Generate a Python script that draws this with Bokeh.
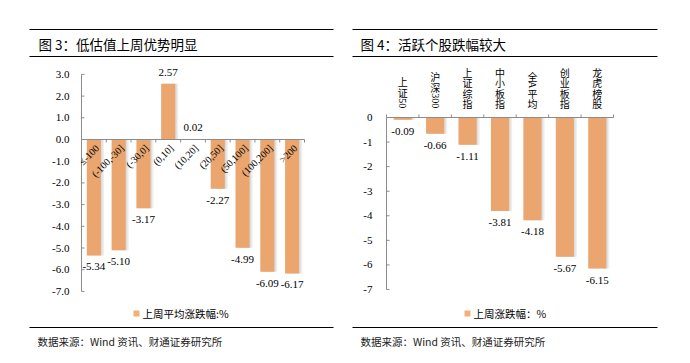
import math
from bokeh.plotting import figure
from bokeh.models import ColumnDataSource, Range1d
from bokeh.layouts import row
from bokeh.embed import file_html
from bokeh.resources import INLINE
from bokeh.core.properties import value

# ---------------- data ----------------
left_title = "图 3：低估值上周优势明显"
left_cats = ["≤-100", "(-100,-30]", "(-30,0]", "(0,10]", "(10,20]",
             "(20,50]", "(50,100]", "(100,200]", ">200"]
left_vals = [-5.34, -5.10, -3.17, 2.57, 0.02, -2.27, -4.99, -6.09, -6.17]
left_ticks = [3, 2, 1, 0, -1, -2, -3, -4, -5, -6, -7]
left_tick_labels = ["3.0", "2.0", "1.0", "0.0", "-1.0", "-2.0", "-3.0", "-4.0", "-5.0", "-6.0", "-7.0"]
left_legend = "上周平均涨跌幅:%"

right_title = "图 4：活跃个股跌幅较大"
right_cats = ["上证50", "沪深300", "上证综指", "中小板指", "全A平均", "创业板指", "龙虎榜股"]
right_vals = [-0.09, -0.66, -1.11, -3.81, -4.18, -5.67, -6.15]
right_ticks = [0, -1, -2, -3, -4, -5, -6, -7]
right_tick_labels = ["0", "-1", "-2", "-3", "-4", "-5", "-6", "-7"]
right_legend = "上周涨跌幅：%"

source_text = "数据来源：Wind 资讯、财通证券研究所"

# ---------------- style ----------------
BAR = "#EAA66E"
LEG = "#F2AF78"
AXIS = "#8C8C8C"
SERIF = "Liberation Serif"
CJK = "Noto Sans CJK SC"


def split_parts(label):
    parts, buf = [], ""
    for ch in label:
        if ord(ch) < 128:
            buf += ch
        else:
            if buf:
                parts.append((buf, True))
                buf = ""
            parts.append((ch, False))
    if buf:
        parts.append((buf, True))
    return parts


def make_chart(cats, vals, ticks, tick_labels, title, legend_text, lay):
    n = len(cats)
    W, H = lay["W"], lay["H"]
    ax, aw = lay["axis_x"], lay["axis_w"]      # pixel position/width of category axis
    zero, ppu = lay["zero"], lay["ppu"]        # pixel of value 0, pixels per unit
    cw = aw / n

    def X(px):
        return (px - ax) / cw

    def Y(py):
        return (zero - py) / ppu

    p = figure(width=W, height=H, x_range=Range1d(X(0), X(W)), y_range=Range1d(Y(H), Y(0)),
               min_border=0, output_backend="svg", toolbar_location=None, tools="",
               x_axis_type=None, y_axis_type=None)
    p.title.visible = False
    p.outline_line_color = None
    p.xgrid.visible = False
    p.ygrid.visible = False
    p.background_fill_color = "white"
    p.border_fill_color = "white"

    centers = [i + 0.5 for i in range(n)]
    bw = lay["bar_w"]
    sh1 = [c + 1.5 / cw for c in centers]
    sh2 = [c + 3.0 / cw for c in centers]
    p.vbar(x=sh2, top=vals, bottom=0, width=bw, fill_color="#BDBDBD", fill_alpha=0.25, line_color=None)
    p.vbar(x=sh1, top=vals, bottom=0, width=bw, fill_color="#BDBDBD", fill_alpha=0.35, line_color=None)
    p.vbar(x=centers, top=vals, bottom=0, width=bw, fill_color=BAR, line_color=None)

    # ---- value axis (drawn from the tick list) ----
    tl = 3.0
    p.segment(x0=[0], y0=[min(ticks)], x1=[0], y1=[max(ticks)], line_color=AXIS, line_width=1)
    p.segment(x0=[0] * len(ticks), y0=ticks, x1=[tl / cw] * len(ticks), y1=ticks,
              line_color=AXIS, line_width=1)
    p.text(x=[0] * len(ticks), y=ticks, text=tick_labels, x_offset=-lay["ystandoff"],
           text_align="right", text_baseline="middle",
           text_font=value(SERIF), text_font_size="11px", text_color="black")

    # ---- category axis at value 0 ----
    bounds = list(range(n + 1))
    p.segment(x0=[0], y0=[0], x1=[n], y1=[0], line_color=AXIS, line_width=1)
    tdir = -1 if lay["ticks_down"] else 1
    p.segment(x0=bounds, y0=[0] * len(bounds), x1=bounds, y1=[tdir * tl / ppu] * len(bounds),
              line_color=AXIS, line_width=1)

    # ---- value labels ----
    lab = ColumnDataSource(dict(
        x=centers, y=vals, t=["%.2f" % v for v in vals],
        base=["bottom" if v > 0 else "top" for v in vals],
        off=[lay["pos_off"] if v > 0 else lay["neg_off"] for v in vals]))
    p.text(x="x", y="y", text="t", source=lab, text_baseline="base", y_offset="off",
           text_align="center", text_font=value(SERIF), text_font_size="11px", text_color="black")

    # ---- category labels ----
    if lay["cat_style"] == "diag":
        cs = ColumnDataSource(dict(x=centers, y=[0] * n, t=cats))
        p.text(x="x", y="y", text="t", source=cs, angle=math.pi / 4, text_align="right",
               text_baseline="middle", x_offset=3.5, y_offset=7,
               text_font=value(SERIF), text_font_size="10px", text_color="black")
    else:
        cjk = dict(x=[], y=[], t=[], off=[])
        asc = dict(x=[], y=[], t=[], off=[])
        for c, lbl in zip(centers, cats):
            acc = 8.5
            for txt, is_ascii in reversed(split_parts(lbl)):
                h = (len(txt) * 5.2 + 1) if is_ascii else 10.5
                ctr = acc + h / 2
                acc += h
                d = asc if is_ascii else cjk
                d["x"].append(c); d["y"].append(0); d["t"].append(txt); d["off"].append(-ctr)
        p.text(x="x", y="y", text="t", y_offset="off", source=ColumnDataSource(cjk),
               text_align="center", text_baseline="middle",
               text_font=value(CJK), text_font_size="10px", text_color="black")
        p.text(x="x", y="y", text="t", y_offset="off", source=ColumnDataSource(asc),
               angle=-math.pi / 2, text_align="center", text_baseline="middle",
               text_font=value(SERIF), text_font_size="10px", text_color="black")

    # ---- page furniture: rules, title, legend, source ----
    rx0, rx1 = lay["rule_x"]
    ry = lay["rules_y"]
    p.segment(x0=[X(rx0)] * len(ry), y0=[Y(v) for v in ry], x1=[X(rx1)] * len(ry), y1=[Y(v) for v in ry],
              line_color="black", line_width=1.2)
    tx, ty = lay["title_xy"]
    p.text(x=[X(tx)], y=[Y(ty)], text=[title], text_align="left", text_baseline="middle",
           text_font=value(CJK), text_font_size="13.5px", text_color="black")
    lx, ly = lay["legend_xy"]
    p.rect(x=[X(lx + 3)], y=[Y(ly)], width=6, height=6, width_units="screen", height_units="screen",
           fill_color=LEG, line_color=None)
    p.text(x=[X(lx + 9)], y=[Y(ly)], text=[legend_text], text_align="left", text_baseline="middle",
           text_font=value(CJK), text_font_size="10.5px", text_color="black")
    sx, sy = lay["source_xy"]
    p.text(x=[X(sx)], y=[Y(sy)], text=[source_text], text_align="left", text_baseline="middle",
           text_font=value(CJK), text_font_size="10.5px", text_color="#222222")
    return p


left_layout = dict(W=345, H=363, axis_x=81, axis_w=223, zero=139, ppu=21.7, bar_w=0.57,
                   ticks_down=True, cat_style="diag", ystandoff=12, pos_off=-8, neg_off=8,
                   rule_x=(29, 333), rules_y=(29, 56, 327), title_xy=(38, 43),
                   legend_xy=(133, 313), source_xy=(37, 341))
right_layout = dict(W=345, H=363, axis_x=41, axis_w=227, zero=117, ppu=24.57, bar_w=0.56,
                    ticks_down=False, cat_style="stack", ystandoff=14, pos_off=-8, neg_off=8,
                    rule_x=(7, 312), rules_y=(29, 56, 327), title_xy=(15, 43),
                    legend_xy=(119, 313), source_xy=(15, 341))

p1 = make_chart(left_cats, left_vals, left_ticks, left_tick_labels, left_title, left_legend, left_layout)
p2 = make_chart(right_cats, right_vals, right_ticks, right_tick_labels, right_title, right_legend, right_layout)

layout = row(p1, p2)
open("out.html", "w").write(file_html(layout, INLINE))
